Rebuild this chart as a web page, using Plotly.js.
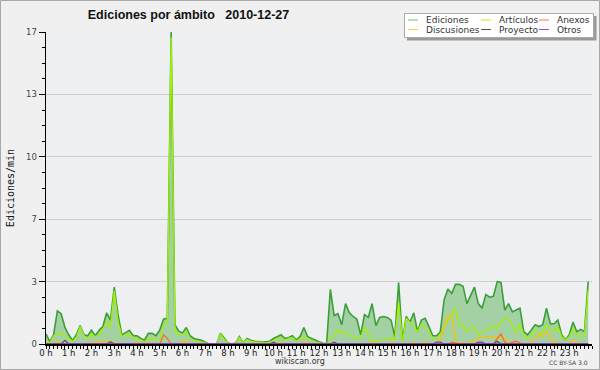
<!DOCTYPE html>
<html><head><meta charset="utf-8">
<script src="https://cdn.plot.ly/plotly-3.0.1.min.js"></script>
<style>html,body{margin:0;padding:0;background:#f0f0f0}#chart{width:600px;height:370px}</style>
</head><body><div id="chart"></div>
<script>
// ---- data (edits per minute, 10-minute steps, 2010-12-27) ----
const seriesNames = ['Ediciones', 'Artículos', 'Anexos', 'Discusiones', 'Proyecto', 'Otros'];
const hourLabels = ['0 h','1 h','2 h','3 h','4 h','5 h','6 h','7 h','8 h','9 h','10 h','11 h','12 h','13 h','14 h','15 h','16 h','17 h','18 h','19 h','20 h','21 h','22 h','23 h'];
const yTickVals = [0, 3.4, 6.8, 10.2, 13.6, 17];
const yTickText = ['0', '3', '7', '10', '13', '17'];

const ediciones = [
 0.55,0.13,0.5,1.8,1.65,0.9,0.5,0.2,0.5,1.0,
 0.5,0.45,0.75,0.45,0.75,0.95,1.7,1.3,3.1,1.6,
 0.5,0.65,0.75,0.45,0.45,0.3,0.22,0.58,0.58,0.45,
 0.76,1.35,1.4,17,1.05,0.7,0.6,0.9,0.45,0.3,
 0.25,0.2,0.1,0,0,0,0.58,0.3,0.05,0,
 0.05,0.4,0.05,0.3,0.2,0.15,0.12,0.12,0.12,0.15,
 0.3,0.4,0.5,0.3,0.35,0.45,0.22,0.4,0.9,0.4,
 0.3,0.18,0.12,0.05,0,2.98,1.55,1.65,1.05,2.2,
 1.7,1.5,1.35,0.5,1.6,1.45,2.2,1.0,1.45,1.5,
 1.45,1.3,0.4,3.35,0.2,1.5,1.2,1.7,0.67,1.3,
 1.4,0.95,0.45,0.45,0.67,2.4,3.0,2.75,3.25,3.25,
 3.15,2.2,2.65,3.1,2.2,1.95,2.7,2.55,2.6,3.4,
 3.35,1.85,2.2,1.75,1.85,1.95,0.67,0.5,0.76,1.05,
 0.95,1.05,1.95,1.1,1.1,1.3,0.5,0.22,0.5,1.2,
 0.67,0.8,0.67,3.4
];
const articulos = [
 0.2,0.05,0.45,0.5,0.6,0.45,0.3,0.15,0.35,0.95,
 0.45,0.3,0.55,0.4,0.5,0.8,1.2,0.9,2.9,1.2,
 0.4,0.5,0.55,0.35,0.3,0.2,0.12,0.3,0.3,0.25,
 0.2,1.0,1.2,16.7,0.7,0.5,0.5,0.7,0.3,0.2,
 0.15,0.1,0.03,0,0,0,0.55,0.25,0.05,0,
 0.05,0.35,0.05,0.25,0.15,0.1,0.1,0.1,0.05,0.1,
 0.2,0.3,0.35,0.2,0.3,0.35,0.15,0.3,0.45,0.3,
 0.15,0.1,0.08,0,0,0.3,0.45,0.8,0.6,0.67,
 0.45,0.4,0.3,0.35,0.95,0.55,0.15,0.2,0.2,0.25,
 0.3,0.3,0.2,2.3,0.12,1.4,1.2,0.95,0.67,1.1,
 0.85,0.67,0.3,0.3,0.5,0.95,1.3,1.6,1.95,1.05,
 1.05,0.67,0.95,0.95,0.5,0.67,0.76,0.85,1.0,0.85,
 1.2,1.4,1.3,1.05,0.58,1.1,0.5,0.3,0.5,0.76,
 0.58,0.67,1.1,0.76,0.67,0.95,0.4,0.22,0.4,0.85,
 0.5,0.4,0.5,2.95
];
const anexos = [
 0,0,0,0,0,0,0,0,0,0,
 0,0,0,0,0,0,0,0,0,0,
 0,0,0,0,0,0,0,0,0,0,
 0,0.5,0.3,0,0,0,0,0,0,0,
 0,0,0,0,0,0,0,0,0,0,
 0,0,0,0,0,0,0,0,0,0,
 0,0,0,0,0,0,0,0,0,0,
 0,0,0,0,0,0,0,0,0,0,
 0,0,0,0,0,0,0,0,0,0,
 0,0,0,0,0,0,0,0,0,0,
 0,0,0,0,0,0,0,0.1,0.05,0,
 0,0,0,0,0,0,0,0,0,0.3,
 0.55,0.1,0,0.1,0.15,0.05,0,0,0,0,
 0,0,0,0,0,0,0,0,0,0,
 0,0,0,0
];
const discusiones = [
 0,0,0,0.15,0,0.05,0,0,0,0,
 0,0,0.1,0.1,0.1,0.1,0.15,0.1,0.1,0,
 0,0,0,0,0.1,0,0,0.1,0,0,
 0,0,0,0,0,0,0.15,0.1,0,0,
 0,0,0,0,0,0,0,0,0,0,
 0,0,0,0,0,0.05,0,0,0,0,
 0,0,0.1,0,0,0,0,0,0.15,0,
 0,0,0,0.05,0,0,0.1,0,0,0,
 0,0,0.05,0,0,0,0.1,0,0,0,
 0,0.1,0,0,0,0,0,0.1,0,0,
 0.15,0,0,0,0.2,1.0,1.5,1.6,0.2,0,
 0.1,0,0.1,0.15,0.3,0.4,0.4,0.4,0.4,0.4,
 0.35,0.3,0.1,0,0,0.1,0,0,0.1,0.3,
 0.5,0.4,0.7,0.3,0.1,0.05,0,0,0,0.2,
 0.1,0,0,0
];
const proyecto = [
 0,0,0,0,0,0.2,0,0,0,0,
 0,0,0,0,0,0,0,0.12,0,0,
 0,0,0,0,0,0,0,0,0,0,
 0,0,0,0,0,0,0,0,0,0,
 0,0,0,0,0,0,0,0,0,0,
 0,0,0,0,0,0,0,0,0,0,
 0.1,0,0,0,0,0,0,0,0,0,
 0,0,0,0,0,0,0.1,0,0,0,
 0,0,0,0,0,0,0,0,0,0,
 0,0,0,0,0,0,0,0,0,0,
 0,0,0,0,0,0,0,0,0,0,
 0,0,0,0,0,0,0,0,0,0.15,
 0,0,0,0,0,0,0,0,0,0,
 0,0,0,0,0,0,0,0,0,0,
 0,0,0,0
];
const otros = [
 0,0,0,0,0,0,0,0,0,0,
 0,0,0,0,0,0,0,0,0,0,
 0,0,0,0,0,0,0,0,0,0,
 0,0,0,0,0,0,0,0,0,0,
 0,0,0,0,0,0,0,0,0,0,
 0,0,0,0,0,0,0,0,0,0,
 0,0,0,0,0,0,0,0,0,0,
 0,0,0,0,0,0,0,0,0,0,
 0,0,0,0,0,0,0,0,0,0,
 0,0,0,0,0,0,0,0,0,0,
 0,0,0,0.1,0.1,0,0,0,0,0,
 0,0,0,0,0.1,0.1,0,0,0,0,
 0,0,0,0,0,0,0,0,0,0,
 0,0,0,0,0,0,0,0,0,0,
 0,0,0,0
];

// time axis: one sample every 10 minutes, in hours
const hours = ediciones.map((_, i) => i / 6);

// ---- styles ----
const lineColors = ['#3a9f3a', '#a4f000', '#ff6a2a', '#ffbf00', '#555555', '#8a2be2'];
const legendColors = ['#66cc66', '#ccf000', '#ff7744', '#ffcc33', '#555555', '#9944ff'];
const W = 600, H = 370;
const M = {l: 46, r: 8, t: 32, b: 26};
const PW = W - M.l - M.r, PH = H - M.t - M.b;
const px = v => (v - M.l) / PW;          // pixel x -> paper x
const py = v => (H - M.b - v) / PH;      // pixel y -> paper y

const allSeries = [ediciones, articulos, anexos, discusiones, proyecto, otros];
const drawOrder = [0, 1, 3, 2, 4, 5];
const traces = drawOrder.map(k => ({
  type: 'scatter', mode: 'lines', name: seriesNames[k],
  x: hours, y: allSeries[k],
  line: {color: lineColors[k], width: k === 0 ? 1.6 : 1.3},
  fill: k === 0 ? 'tozeroy' : 'none',
  fillcolor: '#a3d1a3',
  hoverinfo: 'skip'
}));

// manual legend (3 columns x 2 rows)
const legCols = [408, 481, 539];
const legRows = [20, 29.5];
const shapes = [
  {type: 'rect', xref: 'paper', yref: 'paper', x0: px(0.5), x1: px(599.5), y0: py(369.5), y1: py(0.5),
   line: {color: '#a8a8a8', width: 1}, fillcolor: 'rgba(0,0,0,0)', layer: 'below'},
  {type: 'rect', xref: 'paper', yref: 'paper', x0: px(407), x1: px(596.5), y0: py(40.5), y1: py(16),
   line: {width: 0}, fillcolor: '#9a9a9a', layer: 'above'},
  {type: 'rect', xref: 'paper', yref: 'paper', x0: px(404.5), x1: px(593.5), y0: py(37.5), y1: py(13.5),
   line: {color: '#aaaaaa', width: 1}, fillcolor: '#ffffff', layer: 'above'}
];
const annotations = [];
seriesNames.forEach((name, k) => {
  const c = k % 3, r = Math.floor(k / 3);
  shapes.push({type: 'line', xref: 'paper', yref: 'paper', x0: px(legCols[c]), x1: px(legCols[c] + 10),
    y0: py(legRows[r]), y1: py(legRows[r]), line: {color: legendColors[k], width: 1}, layer: 'above'});
  annotations.push({xref: 'paper', yref: 'paper', x: px(legCols[c] + 16), y: py(legRows[r]),
    xanchor: 'left', yanchor: 'middle', showarrow: false, text: name,
    font: {family: 'DejaVu Sans', size: 9, color: '#333'}});
});
annotations.push({xref: 'paper', yref: 'paper', x: px(300), y: py(361.5), xanchor: 'center', yanchor: 'middle',
  showarrow: false, text: 'wikiscan.org', font: {family: 'DejaVu Sans', size: 8, color: '#333'}});
annotations.push({xref: 'paper', yref: 'paper', x: px(590), y: py(362.5), xanchor: 'right', yanchor: 'middle',
  showarrow: false, text: 'CC BY-SA 3.0', font: {family: 'DejaVu Sans', size: 6, color: '#444'}});

const layout = {
  width: W, height: H,
  margin: M,
  paper_bgcolor: '#f0f0f0',
  plot_bgcolor: '#eeeff0',
  showlegend: false,
  title: {text: 'Ediciones por ámbito\u00a0\u00a0 2010-12-27', xref: 'container', yref: 'container',
    x: 188.5 / W, xanchor: 'center', y: 1 - 14.5 / H, yanchor: 'middle',
    font: {family: 'Liberation Sans', size: 12.5, color: '#111', weight: 'bold'}},
  xaxis: {
    range: [0, 24], tickmode: 'array', tickvals: hourLabels.map((_, i) => i), ticktext: hourLabels,
    ticks: 'outside', ticklen: 3, tickwidth: 1, tickcolor: '#000', ticklabelstandoff: -3,
    showline: true, linecolor: '#000', linewidth: 1.5, showgrid: false, zeroline: false,
    tickfont: {family: 'DejaVu Sans', size: 8.5, color: '#222'},
    minor: {dtick: 1 / 6, tick0: 0, ticks: 'outside', ticklen: 3, tickcolor: '#000', tickwidth: 1, showgrid: false},
    fixedrange: true
  },
  yaxis: {
    range: [0, 17], tickmode: 'array', tickvals: yTickVals, ticktext: yTickText,
    ticks: 'outside', ticklen: 6, tickwidth: 1, tickcolor: '#000',
    showline: true, linecolor: '#000', linewidth: 1.5, showgrid: true, gridcolor: '#cfcfcf', gridwidth: 1,
    zeroline: false,
    tickfont: {family: 'DejaVu Sans', size: 8.5, color: '#444'},
    minor: {dtick: 0.85, tick0: 0, ticks: 'outside', ticklen: 3, tickcolor: '#000', tickwidth: 1, showgrid: false},
    title: {text: 'Ediciones/min', standoff: 9, font: {family: 'DejaVu Sans Mono', size: 10, color: '#111'}},
    fixedrange: true
  },
  shapes: shapes,
  annotations: annotations
};

Plotly.newPlot('chart', traces, layout, {staticPlot: true, displayModeBar: false});
</script>
</body></html>
